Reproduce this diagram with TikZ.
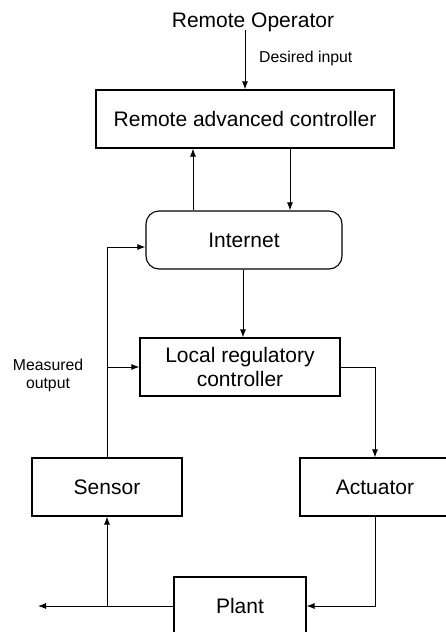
\documentclass[tikz,border=0pt]{standalone}
\usepackage{fontspec}
\setmainfont{Liberation Sans}
\usetikzlibrary{arrows.meta}
\begin{document}
\begin{tikzpicture}[x=1pt,y=-1pt,
  box/.style={draw, line width=1.1pt, minimum height=58pt, inner sep=0pt, font=\fontsize{21}{24}\selectfont, align=center},
  rbox/.style={box, rounded corners=13pt},
  big/.style={font=\fontsize{21}{24}\selectfont, inner sep=0pt},
  small/.style={font=\fontsize{15.8}{18}\selectfont, inner sep=0pt, align=center},
  arr/.style={line width=1pt, -{Latex[length=8pt,width=6pt]}},
  ln/.style={line width=1pt}]
\useasboundingbox (0,0) rectangle (446,632);
\node[big] (op) at (253,22) {Remote Operator};
\node[small, anchor=west] (des) at (259,58) {Desired input};
\node[box, minimum width=298pt] (rac) at (245,119) {Remote advanced controller};
\node[rbox, minimum width=196pt] (inet) at (244,240) {Internet};
\node[box, minimum width=200pt] (loc) at (240,367) {Local regulatory\\controller};
\node[box, minimum width=150pt] (sen) at (107,487) {Sensor};
\node[box, minimum width=150pt] (act) at (375,487) {Actuator};
\node[box, minimum width=132pt] (plant) at (240,606) {Plant};
\node[small] (mo) at (48,375) {Measured\\output};
\coordinate (u1) at (193,0);
\coordinate (d1) at (290,0);
\coordinate (out) at (38,606);
\draw[arr] ([yshift=2pt]op.south -| rac.north) -- (rac.north);
\draw[arr] (u1 |- inet.north) -- (u1 |- rac.south);
\draw[arr] (d1 |- rac.south) -- (d1 |- inet.north);
\draw[arr] ([xshift=-1pt]inet.south) -- ([xshift=-1pt]inet.south |- loc.north);
\draw[arr] (loc.east) -| (act.north);
\draw[arr] (act.south) |- (plant.east);
\draw[arr] (plant.west) -- (out);
\draw[arr] (sen.south |- plant.west) -- (sen.south);
\draw[arr] (sen.north) |- ([yshift=-7pt]inet.west);
\draw[arr] (sen.north |- loc.west) -- (loc.west);
\end{tikzpicture}
\end{document}
